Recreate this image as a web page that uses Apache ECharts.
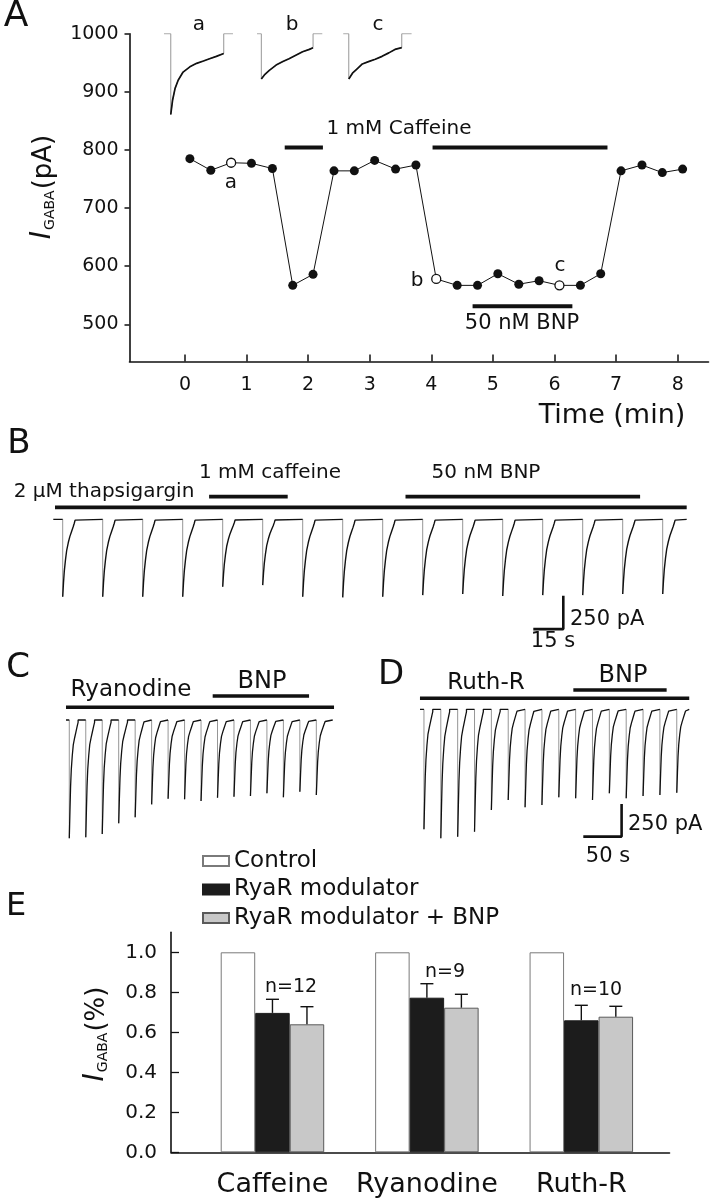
<!DOCTYPE html>
<html><head><meta charset="utf-8">
<script src="https://cdn.jsdelivr.net/npm/echarts@6/dist/echarts.min.js"></script>
<style>html,body{margin:0;padding:0;background:#fff}#c{width:710px;height:1200px}</style>
</head><body><div id="c"></div>
<script>
// ===== Panel A data (time in min, current in pA) =====
const timeA   = [0.08,0.42,0.75,1.08,1.42,1.75,2.08,2.42,2.75,3.08,3.42,3.75,4.08,4.42,4.75,5.08,5.42,5.75,6.08,6.42,6.75,7.08,7.42,7.75,8.08];
const igabaA  = [785,765,778,777,768,567,586,764,764,782,767,774,578,567,567,587,569,575,567,567,587,764,774,761,767];
const openIdxA = [2,12,18];
const xTicksA = [0,1,2,3,4,5,6,7,8];
const yTicksA = [500,600,700,800,900,1000];
// inset current traces a, b, c (drawn in panel A coordinates)
const insetEdgesA = [[-0.34,0.78],[1.17,2.23],[2.57,3.68]];
const insetDecayA = [[-0.23,861],[-0.20,886],[-0.16,906],[-0.11,920],[-0.03,934],[0.08,943],[0.19,949],[0.30,953],[0.40,957],[0.51,961],[0.63,966]];
const insetDecayB = [[1.24,922],[1.29,929],[1.37,937],[1.48,946],[1.59,952],[1.69,957],[1.80,963],[1.91,969],[2.02,973],[2.08,976]];
const insetDecayC = [[2.66,922],[2.72,932],[2.80,940],[2.88,948],[2.98,952],[3.09,956],[3.20,961],[3.31,967],[3.41,973],[3.52,976]];
const insetBaseA = 1000;
const caffeineBarsA = [[1.62,2.24],[4.02,6.86]];
const caffeineLevelA = 804;
const bnpBarA = [4.67,6.29];
const bnpLevelA = 531;

// ===== Panel B data (time s, current pA) =====
const sweepTimesB = [0,20,40,60,80,100,120,140,160,180,200,220,240,260,280,300];
const peaksB = [580,580,580,580,505,493,580,585,580,568,560,575,568,568,560,560];
const templateB = [[0,1],[0.4,0.82],[0.8,0.67],[1.4,0.52],[2.0,0.40],[2.8,0.30],[3.6,0.22],[4.4,0.16],[5.2,0.10],[5.8,0.05],[6.2,0.01]];
const spanB = [-4.7,312];
const thapsBarB = [-3.85,312];   const thapsLevelB = 90;
const caffeineBarB = [73.2,112.5];
const bnpBarB = [171.4,288.7];   const drugLevelB = 170;
const scaleCornerB = [250.3,-823]; const scaleLenB = [15,250];

// ===== Panels C, D data =====
const templateCD = [[0,1],[0.9,0.76],[1.7,0.56],[2.6,0.42],[3.9,0.30],[5.2,0.21],[7.0,0.15],[8.7,0.10],[10.4,0.05],[11.5,0.02]];
const sweepTimesC = [0,21.5,43,64.5,86,107.5,129,150.5,172,193.5,215,236.5,258,279.5,301,322.5];
const peaksC = [904,897,872,790,744,645,602,606,619,594,586,581,560,591,548,573];
const spanC = [-4.3,343.9];
const ryaBarC = [-4.3,345.6]; const ryaLevelC = 97;
const bnpBarC = [187.2,313];  const bnpLevelC = 183;
const sweepTimesD = [0,22,44,66,88,110,132,154,176,198,220,242,264,286,308,330];
const peaksD = [917,986,974,936,770,693,749,732,673,680,693,642,680,663,655,638];
const spanD = [-5.2,346.3];
const ruthBarD = [-5.2,346.3]; const ruthLevelD = 84;
const bnpBarD = [195,316.8];   const bnpLevelD = 147;
const scaleCornerD = [258,-973]; const scaleLenD = [50,250];

// ===== Panel E data =====
const categoriesE = ['Caffeine','Ryanodine','Ruth-R'];
const catPosE = [1,2,3];
const controlE = [1.0,1.0,1.0];
const modE = [0.697,0.773,0.660];
const modErrE = [0.068,0.070,0.075];
const modBnpE = [0.640,0.723,0.678];
const modBnpErrE = [0.088,0.067,0.052];
const nLabelsE = ['n=12','n=9','n=10'];
const yTicksE = [0,0.2,0.4,0.6,0.8,1.0];
const legendE = ['Control','RyaR modulator','RyaR modulator + BNP'];

// ===== helpers =====
const FONT = 'DejaVu Sans';
const INK = '#111';
const GAP = ['-','-'];
function zip(xs, ys){ return xs.map((x,i)=>[x, ys[i]]); }
function barLine(ranges, level){
  const d = [];
  ranges.forEach(r => { d.push([r[0],level],[r[1],level],GAP); });
  return d;
}
function buildTrace(times, peaks, template, span){
  const base = [[span[0],0]];
  const drops = [];
  times.forEach((t,k) => {
    const A = peaks[k];
    base.push([t,0], GAP);
    template.forEach(p => base.push([t+p[0], -A*p[1]]));
    base.push([t+template[template.length-1][0], 0]);
    drops.push([t,0],[t,-A],GAP);
  });
  base.push([span[1],0]);
  return {base, drops};
}
function lineS(gi, data, color, width, z){
  return {type:'line', xAxisIndex:gi, yAxisIndex:gi, data, symbol:'none', silent:true,
    connectNulls:false, lineStyle:{color, width, cap:'butt'}, z: z||2, animation:false};
}
function scaleBar(corner, len){
  return [[corner[0]-len[0], corner[1]],[corner[0],corner[1]],[corner[0],corner[1]+len[1]]];
}
function insetSeries(edges, decay){
  const frame = [[edges[0],insetBaseA],[decay[0][0],insetBaseA]].concat(decay, [[decay[decay.length-1][0],insetBaseA],[edges[1],insetBaseA]]);
  return [lineS(0, frame, '#8a8a8a', 0.9, 2), lineS(0, decay, INK, 1.7, 3)];
}
function T(x, y, text, size, extra){
  return Object.assign({type:'text', x, y, z:100, silent:true,
    style:{text, fontSize:size, fontFamily:FONT, fill:INK, align:'center', verticalAlign:'middle'}}, extra||{});
}
function TL(x, y, text, size){
  const t = T(x, y, text, size); t.style.align = 'left'; return t;
}
function yTitle(x, y, unit){
  return {type:'text', x, y, z:100, rotation:Math.PI/2, silent:true,
    style:{text:'{i|I}{s|GABA}{p|' + unit + '}', align:'center', verticalAlign:'middle', fill:INK,
      rich:{
        i:{fontSize:28, fontStyle:'italic', fontFamily:FONT, fill:INK, lineHeight:30, verticalAlign:'bottom'},
        s:{fontSize:14, fontFamily:FONT, fill:INK, lineHeight:14, verticalAlign:'bottom', padding:[0,1,0,1]},
        p:{fontSize:26, fontFamily:FONT, fill:INK, lineHeight:30, verticalAlign:'bottom'}
      }}};
}

const trB = buildTrace(sweepTimesB, peaksB, templateB, spanB);
const trC = buildTrace(sweepTimesC, peaksC, templateCD, spanC);
const trD = buildTrace(sweepTimesD, peaksD, templateCD, spanD);

function errSeries(vals, errs, offsetPx){
  return {type:'custom', xAxisIndex:4, yAxisIndex:4, z:5, silent:true,
    dimensions:['x','y','e'], encode:{x:0, y:1},
    data: vals.map((v,i)=>[catPosE[i], v, errs[i]]),
    renderItem:(params, api)=>{
      const x = api.value(0), v = api.value(1), e = api.value(2);
      const p0 = api.coord([x, v]), p1 = api.coord([x, v+e]);
      const cx = p0[0] + offsetPx, hw = 6.5;
      return {type:'group', children:[
        {type:'line', shape:{x1:cx,y1:p0[1],x2:cx,y2:p1[1]}, style:{stroke:INK, lineWidth:1.4}},
        {type:'line', shape:{x1:cx-hw,y1:p1[1],x2:cx+hw,y2:p1[1]}, style:{stroke:INK, lineWidth:1.4}}
      ]};
    }};
}

const BARW = 34.5;
const axisTxt = {fontFamily:FONT, color:INK};

const pointsA = zip(timeA, igabaA).map((p,i) => openIdxA.includes(i)
  ? {value:p, itemStyle:{color:'#fff', borderColor:INK, borderWidth:1.3}}
  : {value:p, itemStyle:{color:INK}});

const option = {
  animation:false,
  backgroundColor:'#fff',
  textStyle:{fontFamily:FONT},
  grid:[
    {left:129.5, top:33.7, width:579, height:327.8},
    {left:50.7, top:486, width:648, height:166.7},
    {left:60.1, top:680.76, width:284.95, height:170.05},
    {left:411.7, top:670.06, width:295.7, height:170.05},
    {left:171, top:932.3, width:498.5, height:220}
  ],
  xAxis:[
    {gridIndex:0, type:'value', min:-0.9, max:8.5, splitLine:{show:false},
      axisLine:{onZero:false, lineStyle:{color:INK, width:1.6}},
      axisTick:{inside:true, length:7, customValues:xTicksA, lineStyle:{color:INK, width:1.5}},
      axisLabel:Object.assign({customValues:xTicksA, margin:14, fontSize:19, formatter:v => String(v)}, axisTxt)},
    {gridIndex:1, type:'value', min:-6, max:318, show:false},
    {gridIndex:2, type:'value', min:-12, max:360, show:false},
    {gridIndex:3, type:'value', min:-16, max:370, show:false},
    {gridIndex:4, type:'value', min:0.343, max:3.571, splitLine:{show:false},
      axisLine:{onZero:false, lineStyle:{color:INK, width:1.6}},
      axisTick:{show:false},
      axisLabel:Object.assign({customValues:catPosE, margin:19, fontSize:27,
        formatter:v => categoriesE[Math.round(v)-1]}, axisTxt)}
  ],
  yAxis:[
    {gridIndex:0, type:'value', min:436, max:1000, splitLine:{show:false},
      axisLine:{onZero:false, lineStyle:{color:INK, width:1.6}},
      axisTick:{inside:false, length:5, customValues:yTicksA, lineStyle:{color:INK, width:1.5}},
      axisLabel:Object.assign({customValues:yTicksA, margin:11, fontSize:19, formatter:v => String(v)}, axisTxt)},
    {gridIndex:1, type:'value', min:-1000, max:250, show:false},
    {gridIndex:2, type:'value', min:-1000, max:300, show:false},
    {gridIndex:3, type:'value', min:-1000, max:300, show:false},
    {gridIndex:4, type:'value', min:0, max:1.1, splitLine:{show:false},
      axisLine:{onZero:false, lineStyle:{color:INK, width:1.6}},
      axisTick:{inside:true, length:8, customValues:yTicksE, lineStyle:{color:INK, width:1.3}},
      axisLabel:Object.assign({customValues:yTicksE, margin:14, fontSize:20,
        formatter:v => v.toFixed(1)}, axisTxt)}
  ],
  legend:{data:legendE, orient:'vertical', left:197, top:844, itemWidth:26, itemHeight:10,
    itemGap:4.5, icon:'rect', selectedMode:false,
    textStyle:{fontFamily:FONT, fontSize:23, color:INK, lineHeight:24}},
  series:[
    // Panel A
    {type:'line', xAxisIndex:0, yAxisIndex:0, data:pointsA, symbol:'circle', symbolSize:9,
      lineStyle:{color:INK, width:1}, z:4, silent:true},
    ...insetSeries(insetEdgesA[0], insetDecayA),
    ...insetSeries(insetEdgesA[1], insetDecayB),
    ...insetSeries(insetEdgesA[2], insetDecayC),
    lineS(0, barLine(caffeineBarsA, caffeineLevelA), INK, 4),
    lineS(0, barLine([bnpBarA], bnpLevelA), INK, 4),
    // Panel B
    lineS(1, trB.drops, '#8a8a8a', 0.9, 2),
    lineS(1, trB.base, INK, 1.4, 3),
    lineS(1, barLine([thapsBarB], thapsLevelB), INK, 3.6),
    lineS(1, barLine([caffeineBarB, bnpBarB], drugLevelB), INK, 3.6),
    lineS(1, scaleBar(scaleCornerB, scaleLenB), INK, 2.6),
    // Panel C
    lineS(2, trC.drops, '#8a8a8a', 0.9, 2),
    lineS(2, trC.base, INK, 1.3, 3),
    lineS(2, barLine([ryaBarC], ryaLevelC), INK, 3.6),
    lineS(2, barLine([bnpBarC], bnpLevelC), INK, 3.6),
    // Panel D
    lineS(3, trD.drops, '#8a8a8a', 0.9, 2),
    lineS(3, trD.base, INK, 1.3, 3),
    lineS(3, barLine([ruthBarD], ruthLevelD), INK, 3.6),
    lineS(3, barLine([bnpBarD], bnpLevelD), INK, 3.6),
    lineS(3, scaleBar(scaleCornerD, scaleLenD), INK, 2.6),
    // Panel E
    {name:legendE[0], type:'bar', xAxisIndex:4, yAxisIndex:4, data:zip(catPosE, controlE), barWidth:BARW, barGap:'0%',
      itemStyle:{color:'#ffffff', borderColor:'#7a7a7a', borderWidth:1}, silent:true},
    {name:legendE[1], type:'bar', xAxisIndex:4, yAxisIndex:4, data:zip(catPosE, modE), barWidth:BARW, barGap:'0%',
      itemStyle:{color:'#1c1c1c', borderColor:'#1c1c1c', borderWidth:1}, silent:true},
    {name:legendE[2], type:'bar', xAxisIndex:4, yAxisIndex:4, data:zip(catPosE, modBnpE), barWidth:BARW, barGap:'0%',
      itemStyle:{color:'#c8c8c8', borderColor:'#5a5a5a', borderWidth:1}, silent:true},
    errSeries(modE, modErrE, 0),
    errSeries(modBnpE, modBnpErrE, BARW)
  ],
  graphic:[
    // Panel A
    T(16,17,'A',36),
    T(199,25,'a',20), T(292,25,'b',20), T(378,25,'c',20),
    T(399,129,'1 mM Caffeine',20),
    T(231,183,'a',20), T(417,281,'b',20), T(560,266,'c',20),
    T(522,324,'50 nM BNP',21),
    T(612,416,'Time (min)',27),
    yTitle(42,187,'(pA)'),
    // Panel B
    T(19,444,'B',34),
    T(104,492,'2 μM thapsigargin',20),
    T(270,473,'1 mM caffeine',20),
    T(486,473,'50 nM BNP',20),
    TL(570,620,'250 pA',21),
    T(553,642,'15 s',21),
    // Panel C
    T(18,668,'C',34),
    T(131,690,'Ryanodine',23),
    T(262,682,'BNP',24),
    // Panel D
    T(391,675,'D',34),
    T(486,683,'Ruth-R',23),
    T(623,676,'BNP',24),
    TL(628,825,'250 pA',21),
    T(608,857,'50 s',21),
    // Panel E
    T(16,907,'E',32),
    T(291,987,nLabelsE[0],19), T(445,972,nLabelsE[1],19), T(596,990,nLabelsE[2],19),
    yTitle(95,1034,'(%)')
  ]
};
const chart = echarts.init(document.getElementById('c'), null, {renderer:'canvas'});
chart.setOption(option);
</script></body></html>
